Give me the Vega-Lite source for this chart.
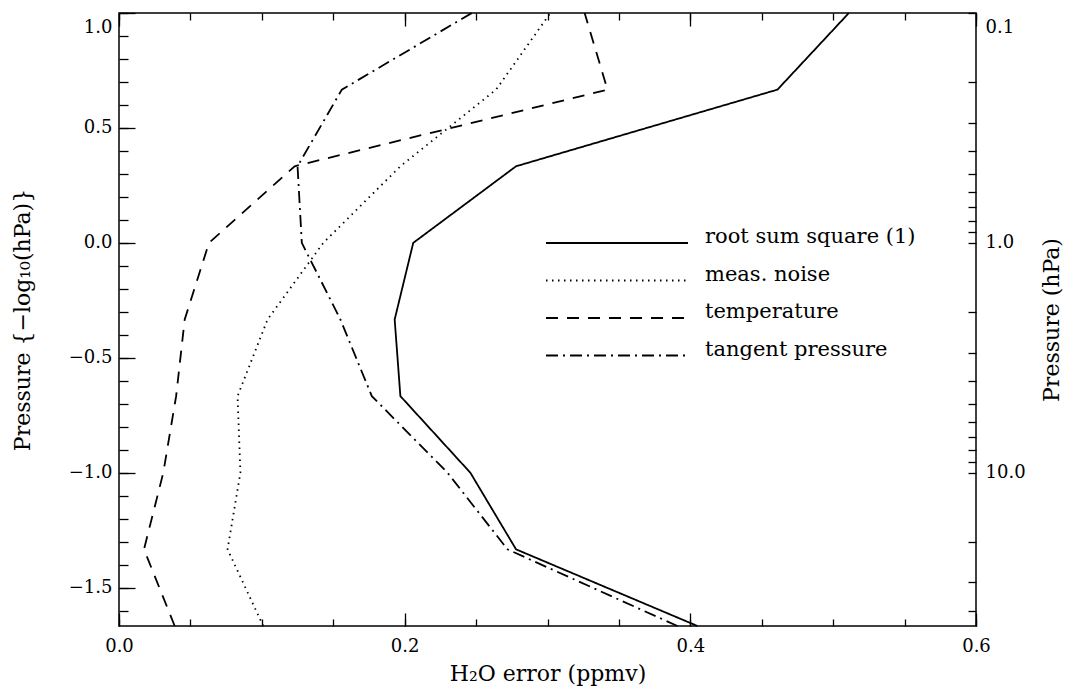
{
  "$schema": "https://vega.github.io/schema/vega-lite/v6.json",
  "width": 857,
  "height": 613,
  "autosize": {"type": "none"},
  "padding": {"left": 119, "top": 13, "right": 93, "bottom": 67},
  "background": "white",
  "config": {
    "view": {"stroke": "black", "strokeWidth": 1.5},
    "axis": {
      "domain": false, "grid": false,
      "labelFont": "DejaVu Serif", "titleFont": "DejaVu Serif",
      "labelFontSize": 18, "titleFontSize": 22, "titleFontWeight": "normal",
      "labelColor": "black", "titleColor": "black", "tickColor": "black",
      "tickWidth": 1.3, "labelOverlap": false, "labelFlush": false
    },
    "line": {"color": "black", "strokeWidth": 1.8}
  },
  "data": {
    "values": [
      {"series": "root sum square (1)", "p": 1.0, "err": 0.511},
      {"series": "root sum square (1)", "p": 0.6667, "err": 0.461},
      {"series": "root sum square (1)", "p": 0.3333, "err": 0.278},
      {"series": "root sum square (1)", "p": 0.0, "err": 0.206},
      {"series": "root sum square (1)", "p": -0.3333, "err": 0.193},
      {"series": "root sum square (1)", "p": -0.6667, "err": 0.197},
      {"series": "root sum square (1)", "p": -1.0, "err": 0.246},
      {"series": "root sum square (1)", "p": -1.3333, "err": 0.278},
      {"series": "root sum square (1)", "p": -1.6667, "err": 0.405},
      {"series": "meas. noise", "p": 1.0, "err": 0.302},
      {"series": "meas. noise", "p": 0.6667, "err": 0.264},
      {"series": "meas. noise", "p": 0.3333, "err": 0.197},
      {"series": "meas. noise", "p": 0.0, "err": 0.143},
      {"series": "meas. noise", "p": -0.3333, "err": 0.104},
      {"series": "meas. noise", "p": -0.6667, "err": 0.083},
      {"series": "meas. noise", "p": -1.0, "err": 0.085},
      {"series": "meas. noise", "p": -1.3333, "err": 0.076},
      {"series": "meas. noise", "p": -1.6667, "err": 0.101},
      {"series": "temperature", "p": 1.0, "err": 0.326},
      {"series": "temperature", "p": 0.6667, "err": 0.342},
      {"series": "temperature", "p": 0.3333, "err": 0.123},
      {"series": "temperature", "p": 0.0, "err": 0.063},
      {"series": "temperature", "p": -0.3333, "err": 0.046},
      {"series": "temperature", "p": -0.6667, "err": 0.040},
      {"series": "temperature", "p": -1.0, "err": 0.031},
      {"series": "temperature", "p": -1.3333, "err": 0.0175},
      {"series": "temperature", "p": -1.6667, "err": 0.039},
      {"series": "tangent pressure", "p": 1.0, "err": 0.247},
      {"series": "tangent pressure", "p": 0.6667, "err": 0.156},
      {"series": "tangent pressure", "p": 0.3333, "err": 0.125},
      {"series": "tangent pressure", "p": 0.0, "err": 0.128},
      {"series": "tangent pressure", "p": -0.3333, "err": 0.155},
      {"series": "tangent pressure", "p": -0.6667, "err": 0.177},
      {"series": "tangent pressure", "p": -1.0, "err": 0.230},
      {"series": "tangent pressure", "p": -1.3333, "err": 0.272},
      {"series": "tangent pressure", "p": -1.6667, "err": 0.391}
    ]
  },
  "layer": [
    {
      "transform": [{"filter": {"field": "series", "equal": "root sum square (1)"}}],
      "mark": {"type": "line"},
      "encoding": {
        "x": {
          "field": "err", "type": "quantitative",
          "scale": {"domain": [0, 0.6], "nice": false, "zero": false},
          "axis": {
            "orient": "bottom", "title": "H₂O error (ppmv)", "format": ".1f",
            "values": [0, 0.05, 0.1, 0.15, 0.2, 0.25, 0.3, 0.35, 0.4, 0.45, 0.5, 0.55, 0.6],
            "labelExpr": "abs(datum.value*5-round(datum.value*5))<1e-6 ? datum.label : ''",
            "tickSize": -7, "labelPadding": 18, "titlePadding": 8
          }
        },
        "y": {
          "field": "p", "type": "quantitative",
          "scale": {"domain": [-1.6667, 1], "nice": false, "zero": false},
          "axis": {
            "orient": "left", "title": "Pressure {−log₁₀(hPa)}", "format": ".1f",
            "values": [1, 0.9, 0.8, 0.7, 0.6, 0.5, 0.4, 0.3, 0.2, 0.1, 0, -0.1, -0.2, -0.3, -0.4, -0.5, -0.6, -0.7, -0.8, -0.9, -1, -1.1, -1.2, -1.3, -1.4, -1.5, -1.6],
            "labelExpr": "abs(datum.value*2-round(datum.value*2))<1e-6 ? datum.label : ''",
            "labelFlush": true, "labelFlushOffset": -5,
            "tickSize": -9, "labelPadding": 16, "titlePadding": 34
          }
        },
        "order": {"field": "p", "type": "quantitative"},
        "strokeDash": {
          "field": "series", "type": "nominal",
          "scale": {"domain": ["root sum square (1)", "meas. noise", "temperature", "tangent pressure"], "range": [[1, 0], [1.5, 4.5], [12, 9], [12, 5, 2, 5]]},
          "legend": {
            "orient": "none", "legendX": 426, "legendY": 220, "title": null,
            "symbolType": "stroke", "symbolSize": 20164, "symbolStrokeWidth": 1.8, "symbolStrokeColor": "black",
            "clipHeight": 20, "rowPadding": 10.5, "padding": 0,
            "labelFont": "DejaVu Serif", "labelFontSize": 21, "labelColor": "black",
            "labelOffset": 16, "labelBaseline": "alphabetic", "labelLimit": 400
          }
        }
      }
    },
    {
      "transform": [{"filter": {"field": "series", "equal": "meas. noise"}}],
      "mark": {"type": "line"},
      "encoding": {
        "x": {
          "field": "err", "type": "quantitative",
          "scale": {"domain": [0, 0.6], "nice": false, "zero": false},
          "axis": {"orient": "bottom", "title": null, "labels": false, "values": [0, 0.2, 0.4, 0.6], "tickSize": -13}
        },
        "y": {
          "field": "p", "type": "quantitative",
          "scale": {"domain": [-1.6667, 1], "nice": false, "zero": false},
          "axis": {"orient": "left", "title": null, "labels": false, "values": [1, 0.5, 0, -0.5, -1, -1.5], "tickSize": -16}
        },
        "order": {"field": "p", "type": "quantitative"},
        "strokeDash": {
          "field": "series", "type": "nominal",
          "scale": {"domain": ["root sum square (1)", "meas. noise", "temperature", "tangent pressure"], "range": [[1, 0], [1.5, 4.5], [12, 9], [12, 5, 2, 5]]}
        }
      }
    },
    {
      "transform": [{"filter": {"field": "series", "equal": "temperature"}}],
      "mark": {"type": "line"},
      "encoding": {
        "x": {
          "field": "err", "type": "quantitative",
          "scale": {"domain": [0, 0.6], "nice": false, "zero": false},
          "axis": {
            "orient": "top", "title": null, "labels": false,
            "values": [0, 0.05, 0.1, 0.15, 0.2, 0.25, 0.3, 0.35, 0.4, 0.45, 0.5, 0.55, 0.6],
            "tickSize": -7
          }
        },
        "y": {
          "field": "p", "type": "quantitative",
          "scale": {"domain": [-1.6667, 1], "nice": false, "zero": false},
          "axis": {
            "orient": "right", "title": "Pressure (hPa)", "titleAngle": 270,
            "values": [1, 0.69897, 0.52288, 0.39794, 0.30103, 0.22185, 0.1549, 0.09691, 0.04576, 0, -0.30103, -0.47712, -0.60206, -0.69897, -0.77815, -0.8451, -0.90309, -0.95424, -1, -1.30103, -1.47712, -1.60206],
            "labelExpr": "datum.value == 1 ? '0.1' : datum.value == 0 ? '1.0' : datum.value == -1 ? '10.0' : ''",
            "labelFlush": true, "labelFlushOffset": -5,
            "tickSize": -8, "labelPadding": 17, "titlePadding": 38
          }
        },
        "order": {"field": "p", "type": "quantitative"},
        "strokeDash": {
          "field": "series", "type": "nominal",
          "scale": {"domain": ["root sum square (1)", "meas. noise", "temperature", "tangent pressure"], "range": [[1, 0], [1.5, 4.5], [12, 9], [12, 5, 2, 5]]}
        }
      }
    },
    {
      "transform": [{"filter": {"field": "series", "equal": "tangent pressure"}}],
      "mark": {"type": "line"},
      "encoding": {
        "x": {
          "field": "err", "type": "quantitative",
          "scale": {"domain": [0, 0.6], "nice": false, "zero": false},
          "axis": {"orient": "top", "title": null, "labels": false, "values": [0, 0.2, 0.4, 0.6], "tickSize": -13}
        },
        "y": {
          "field": "p", "type": "quantitative",
          "scale": {"domain": [-1.6667, 1], "nice": false, "zero": false},
          "axis": null
        },
        "order": {"field": "p", "type": "quantitative"},
        "strokeDash": {
          "field": "series", "type": "nominal",
          "scale": {"domain": ["root sum square (1)", "meas. noise", "temperature", "tangent pressure"], "range": [[1, 0], [1.5, 4.5], [12, 9], [12, 5, 2, 5]]}
        }
      }
    }
  ],
  "resolve": {"axis": {"x": "independent", "y": "independent"}}
}
